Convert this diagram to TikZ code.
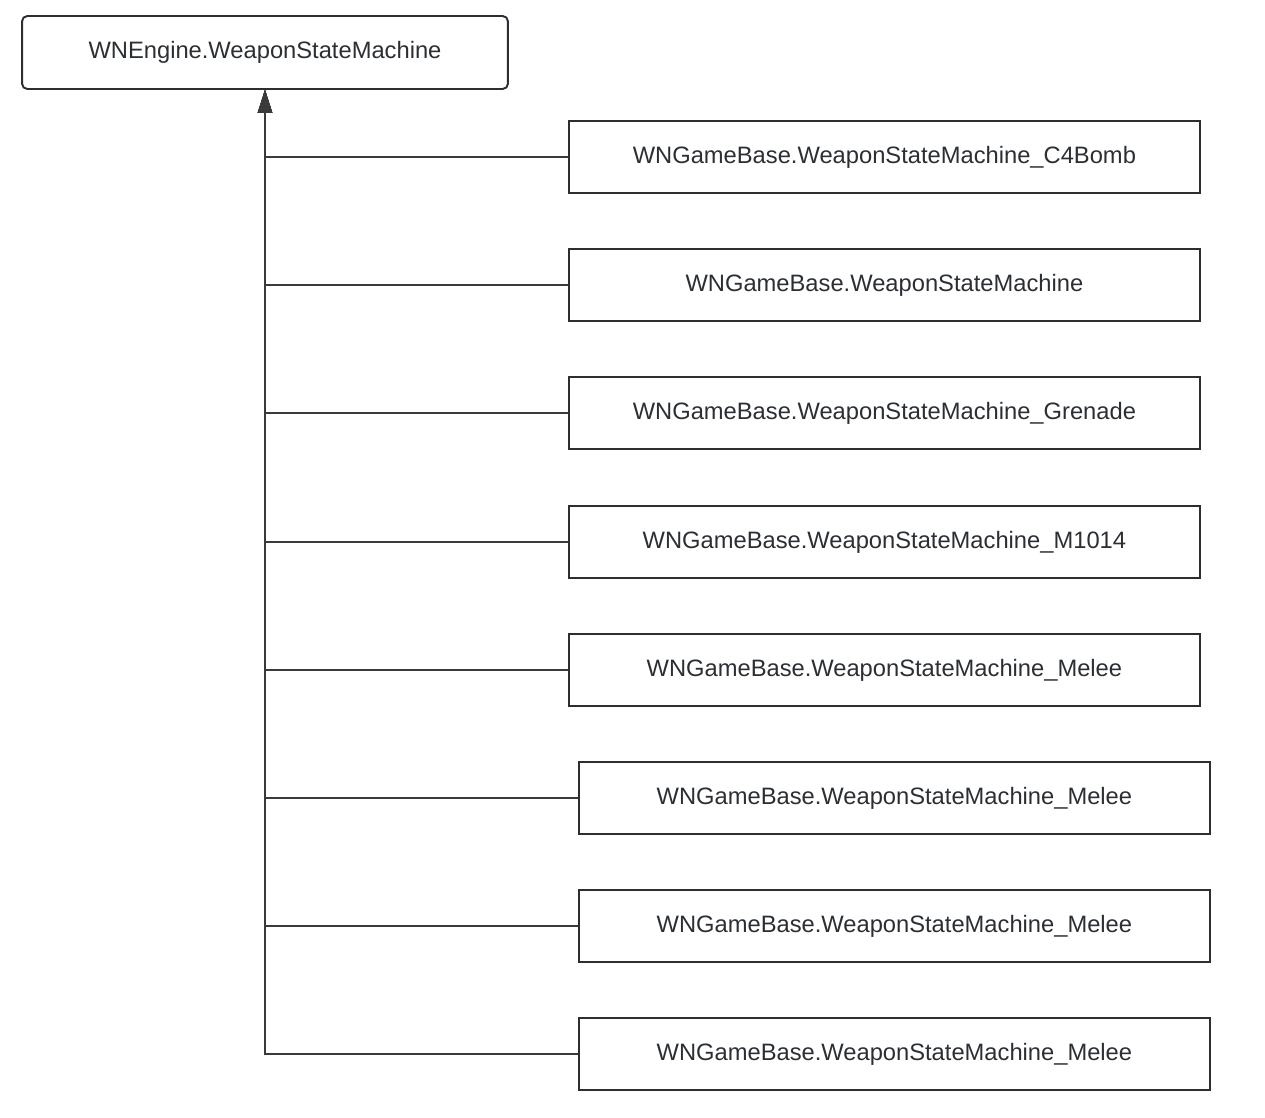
\documentclass[tikz,border=0pt]{standalone}
\usepackage{fontspec}
\setmainfont{Liberation Sans}
\usepackage{xcolor}
\usetikzlibrary{arrows.meta}

\definecolor{inkgray}{HTML}{2B2F33}
\definecolor{linegray}{HTML}{3A3A3A}

\begin{document}
\begin{tikzpicture}[x=0.02cm,y=-0.02cm,
    parentbox/.style={draw=inkgray,line width=1.1pt,rounded corners=3pt,
      minimum width=9.72cm,minimum height=1.46cm,inner sep=0pt,
      text=inkgray,font=\fontsize{13.5}{16}\selectfont},
    childbox/.style={draw=inkgray,line width=1.1pt,
      minimum width=12.62cm,minimum height=1.44cm,inner sep=0pt,
      text=inkgray,font=\fontsize{13.5}{16}\selectfont},
    inherit/.style={draw=linegray,line width=0.95pt,
      -{Triangle[length=13pt,width=8pt]}}]
    % fix the page to the size of the screenshot
    \useasboundingbox (0,0) rectangle (1265,1117);

    \node[parentbox] (engine) at (265,52.5) {WNEngine.WeaponStateMachine};

    % the children: left edge / centre y / suffix
    \foreach \i/\xl/\yc/\suffix in {1/568/157/\_C4Bomb, 2/568/285/, 3/568/413/\_Grenade,
        4/568/542/\_M1014, 5/568/670/\_Melee, 6/578/798/\_Melee,
        7/578/926/\_Melee, 8/578/1054/\_Melee}{
      \node[childbox,anchor=west] (game\i) at (\xl,\yc)
        {\raisebox{-1pt}{WNGameBase.WeaponStateMachine\suffix}};
      \draw[inherit] (game\i.west) -| (engine.south);
    }
\end{tikzpicture}
\end{document}
